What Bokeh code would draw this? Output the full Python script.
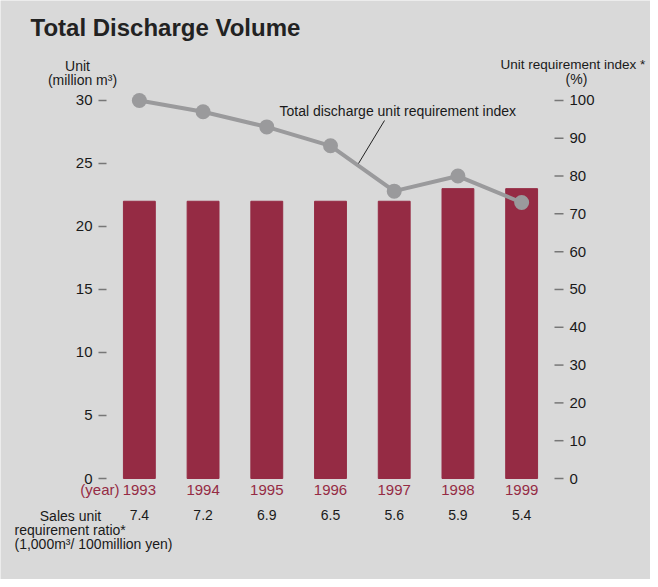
from bokeh.plotting import figure
from bokeh.models import Range1d, Label, ColumnDataSource
from bokeh.core.properties import value
from bokeh.embed import file_html
from bokeh.resources import INLINE

# ---- data ----
years = ["1993", "1994", "1995", "1996", "1997", "1998", "1999"]
discharge = [22, 22, 22, 22, 22, 23, 23]          # million m3
unit_index = [100, 97, 93, 88, 76, 80, 73]        # %
sales_ratio = ["7.4", "7.2", "6.9", "6.5", "5.6", "5.9", "5.4"]
left_ticks = [0, 5, 10, 15, 20, 25, 30]
right_ticks = [0, 10, 20, 30, 40, 50, 60, 70, 80, 90, 100]

BG = "#d9d9d9"
BAR = "#952b44"
LINE = "#9a9a9c"
TXT = "#1a1a1a"
TICK = "#777777"
FONT = "Liberation Sans"

# ---- layout geometry (page pixels) ----
W, H = 650, 579
PX0, PY0 = 8, 8                  # canvas offset on the page
FL, FR, FB, FT = 115, 561, 486, 100   # plot area edges
LEFT_MAX, IDX_MAX = 30.63, 102.1      # value at FT on each scale

xpos = list(range(len(years)))
n = len(years)

def extend(v0, v1, p0, p1, q0, q1):
    """Range whose values v0->p0 and v1->p1 extended to pixels q0..q1."""
    k = (v1 - v0) / (p1 - p0)
    return Range1d(v0 + (q0 - p0) * k, v0 + (q1 - p0) * k)

p = figure(width=W, height=H,
           x_range=Range1d(PX0, PX0 + W), y_range=Range1d(PY0 + H, PY0),
           x_axis_location=None, y_axis_location=None,
           output_backend="svg", toolbar_location=None,
           min_border=0)
p.min_border_left = p.min_border_right = p.min_border_top = p.min_border_bottom = 0
p.background_fill_color = BG
p.border_fill_color = BG
p.outline_line_color = None
p.grid.visible = False

p.extra_x_ranges = {"cat": extend(-0.5, n - 0.5, FL, FR, PX0, PX0 + W)}
p.extra_y_ranges = {"left": extend(0, LEFT_MAX, FB, FT, PY0 + H, PY0),
                    "idx": extend(0, IDX_MAX, FB, FT, PY0 + H, PY0)}

# bars
src = ColumnDataSource(dict(x=xpos, discharge=discharge, idx=unit_index))
p.vbar(x="x", top="discharge", bottom=0, width=0.5, source=src, color=BAR,
       x_range_name="cat", y_range_name="left")

# index line
p.line(x="x", y="idx", source=src, x_range_name="cat", y_range_name="idx",
       line_color=LINE, line_width=4)
p.scatter(x="x", y="idx", source=src, x_range_name="cat", y_range_name="idx",
          size=15, fill_color=LINE, line_color=None)

# left scale ticks + labels
p.segment(x0=[106] * len(left_ticks), x1=[114] * len(left_ticks),
          y0=left_ticks, y1=left_ticks, y_range_name="left",
          line_color=TICK, line_width=1.5)
p.text(x=[100] * len(left_ticks), y=left_ticks, text=[str(t) for t in left_ticks],
       y_range_name="left", text_font=value(FONT), text_font_size="15px",
       text_align="right", text_baseline="middle", text_color=TXT)

# right scale ticks + labels
p.segment(x0=[562] * len(right_ticks), x1=[571] * len(right_ticks),
          y0=right_ticks, y1=right_ticks, y_range_name="idx",
          line_color=TICK, line_width=1.5)
p.text(x=[577] * len(right_ticks), y=right_ticks, text=[str(t) for t in right_ticks],
       y_range_name="idx", text_font=value(FONT), text_font_size="15px",
       text_align="left", text_baseline="middle", text_color=TXT)

# year row and sales-ratio row
p.text(x=xpos, y=[497] * n, text=years, x_range_name="cat",
       text_font=value(FONT), text_font_size="15px", text_align="center",
       text_baseline="middle", text_color=BAR)
p.text(x=xpos, y=[522] * n, text=sales_ratio, x_range_name="cat",
       text_font=value(FONT), text_font_size="14px", text_align="center",
       text_baseline="middle", text_color=TXT)

def lab(x, y, text, size="14px", align="left", color=TXT, style="normal"):
    p.add_layout(Label(x=x, y=y, text=text,
                       text_font=FONT, text_font_size=size, text_align=align,
                       text_baseline="middle", text_color=color, text_font_style=style))

lab(38, 35, "Total Discharge Volume", size="24px", style="bold", color="#222222")
lab(85, 73, "Unit", align="center")
lab(90, 87, "(million m³)", align="center")
lab(508, 72, "Unit requirement index *", size="13.5px")
lab(584, 86, "(%)", align="center")
lab(287, 118, "Total discharge unit requirement index")
lab(127, 497, "(year)", size="15px", align="right", color=BAR)
lab(78, 523, "Sales unit", align="center")
lab(22, 537, "requirement ratio*")
lab(22, 551, "(1,000m³/ 100million yen)")

# leader line
p.segment(x0=[392], y0=[128], x1=[366], y1=[171], line_color="#222222", line_width=1)

open("out.html", "w").write(file_html(p, INLINE))
